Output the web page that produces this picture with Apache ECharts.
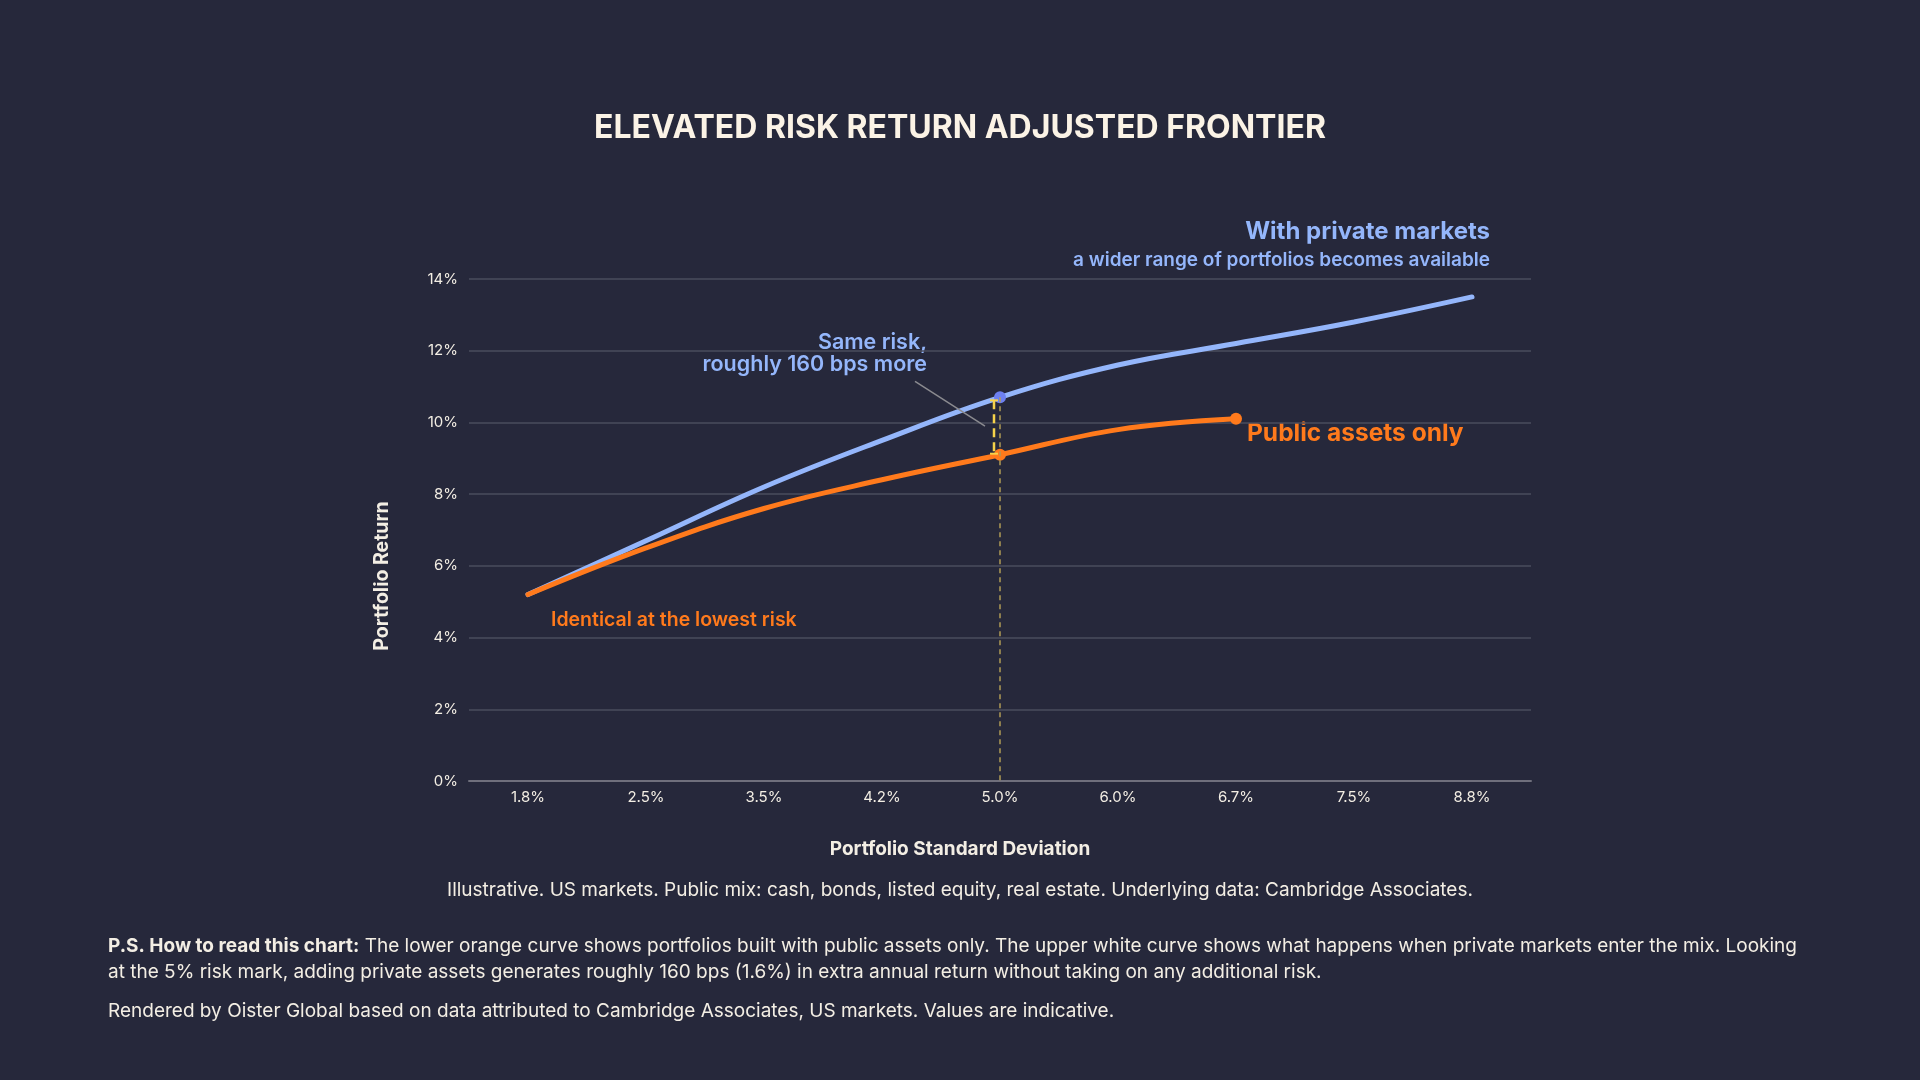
<!DOCTYPE html>
<html>
<head>
<meta charset="utf-8">
<script src="https://cdn.jsdelivr.net/npm/echarts@6/dist/echarts.min.js"></script>
<style>
  html, body { margin: 0; padding: 0; background: #26283b; }
  #main { width: 1920px; height: 1080px; }
</style>
</head>
<body>
<div id="main"></div>
<script>
// 风险档位（x轴）
var riskLabels = ['1.8%', '2.5%', '3.5%', '4.2%', '5.0%', '6.0%', '6.7%', '7.5%', '8.8%'];
// 含私募市场
var privateReturns = [5.2, 6.7, 8.2, 9.5, 10.7, 11.6, 12.2, 12.8, 13.5];
// 仅公开资产
var publicReturns = [5.2, 6.5, 7.6, 8.4, 9.1, 9.8, 10.1];
// y轴刻度
var yTicks = [0, 2, 4, 6, 8, 10, 12, 14];
// 5%风险点的对比
var compareIndex = 4;

var blue = '#94b6fb';
var orange = '#ff7a1c';
var cream = '#f3eee4';
var font = 'Inter';

var chartDom = document.getElementById('main');
var myChart = echarts.init(chartDom);

var privateData = [];
for (var i = 0; i < privateReturns.length; i++) {
  if (i == compareIndex) {
    privateData.push({ value: privateReturns[i], symbol: 'circle', symbolSize: 12, itemStyle: { color: '#6d80f0' } });
  } else {
    privateData.push({ value: privateReturns[i], symbol: 'none' });
  }
}
var publicData = [];
for (var j = 0; j < publicReturns.length; j++) {
  if (j == compareIndex || j == publicReturns.length - 1) {
    publicData.push({ value: publicReturns[j], symbol: 'circle', symbolSize: 12 });
  } else {
    publicData.push({ value: publicReturns[j], symbol: 'none' });
  }
}

// 文字标注
function label(x, y, text, color, fontStr, align) {
  return {
    type: 'text', x: x, y: y, silent: true,
    style: { text: text, fill: color, font: fontStr, align: align || 'left', verticalAlign: 'middle' }
  };
}

var option = {
  backgroundColor: '#26283b',
  animation: false,
  textStyle: { fontFamily: font },
  title: {
    text: 'ELEVATED RISK RETURN ADJUSTED FRONTIER',
    left: 'center',
    top: 107,
    textStyle: { color: '#fbf3e6', fontSize: 32, fontWeight: 700, fontFamily: font }
  },
  grid: { left: 469, right: 389, top: 279, bottom: 299 },
  xAxis: {
    type: 'category',
    data: riskLabels,
    boundaryGap: true,
    axisLine: { lineStyle: { color: '#6f6f7c', width: 2 } },
    axisTick: { show: false },
    axisLabel: { color: cream, fontSize: 15, margin: 9, fontFamily: font },
    splitLine: { show: false }
  },
  yAxis: {
    type: 'value',
    min: yTicks[0],
    max: yTicks[yTicks.length - 1],
    interval: 2,
    axisLine: { show: false },
    axisTick: { show: false },
    axisLabel: { color: cream, fontSize: 15, margin: 11, formatter: '{value}%', fontFamily: font },
    splitLine: { lineStyle: { color: '#4a4c5e', width: 1.5 } }
  },
  series: [
    {
      name: 'With private markets',
      type: 'line',
      smooth: 0.4,
      data: privateData,
      lineStyle: { color: blue, width: 5, cap: 'round' },
      itemStyle: { color: blue },
      z: 2,
      markLine: {
        silent: true,
        symbol: 'none',
        label: { show: false },
        lineStyle: { color: '#b09a55', width: 1.5, type: [5, 4] },
        data: [[
          { coord: [riskLabels[compareIndex], privateReturns[compareIndex]] },
          { coord: [riskLabels[compareIndex], 0] }
        ]]
      }
    },
    {
      name: 'Public assets only',
      type: 'line',
      smooth: 0.4,
      data: publicData,
      lineStyle: { color: orange, width: 5, cap: 'round' },
      itemStyle: { color: orange },
      z: 3
    },
    {
      // 差值标注（括号 + 引线）
      type: 'custom',
      z: 4,
      silent: true,
      data: [[compareIndex, privateReturns[compareIndex], publicReturns[compareIndex]]],
      renderItem: function (params, api) {
        var top = api.coord([api.value(0), api.value(1)]);
        var bot = api.coord([api.value(0), api.value(2)]);
        var bx = top[0] - 6;
        var midY = (top[1] + bot[1]) / 2;
        var yellow = '#f6d24a';
        return {
          type: 'group',
          children: [
            { type: 'line', shape: { x1: bx, y1: top[1] + 3, x2: bx, y2: bot[1] - 1 },
              style: { stroke: yellow, lineWidth: 2.5, lineDash: [9, 5] } },
            { type: 'line', shape: { x1: bx - 4, y1: top[1] + 3, x2: bx + 4, y2: top[1] + 3 },
              style: { stroke: yellow, lineWidth: 2 } },
            { type: 'line', shape: { x1: bx - 4, y1: bot[1] - 1, x2: bx + 4, y2: bot[1] - 1 },
              style: { stroke: yellow, lineWidth: 2 } },
            { type: 'line', shape: { x1: top[0] - 85, y1: top[1] - 16, x2: top[0] - 15, y2: midY },
              style: { stroke: '#8b8b90', lineWidth: 1.5 } }
          ]
        };
      }
    }
  ],
  graphic: [
    label(1490, 232, 'With private markets', blue, '700 24px ' + font, 'right'),
    label(1490, 260, 'a wider range of portfolios becomes available', blue, '600 19px ' + font, 'right'),
    label(927, 343, 'Same risk,', blue, '600 21.5px ' + font, 'right'),
    label(927, 365, 'roughly 160 bps more', blue, '600 21.5px ' + font, 'right'),
    label(1247, 434, 'Public assets only', orange, '700 24.5px ' + font),
    label(551, 620, 'Identical at the lowest risk', orange, '600 19.5px ' + font),
    label(960, 849, 'Portfolio Standard Deviation', cream, '700 19px ' + font, 'center'),
    {
      type: 'text', x: 382, y: 576, rotation: Math.PI / 2, silent: true,
      style: { text: 'Portfolio Return', fill: cream, font: '700 19.5px ' + font, align: 'center', verticalAlign: 'middle' }
    },
    label(960, 890, 'Illustrative. US markets. Public mix: cash, bonds, listed equity, real estate. Underlying data: Cambridge Associates.',
      cream, '400 19px ' + font, 'center'),
    {
      type: 'text', x: 108, y: 933, silent: true,
      style: {
        text: '{b|P.S. How to read this chart:} The lower orange curve shows portfolios built with public assets only. The upper white curve shows what happens when private markets enter the mix. Looking\nat the 5% risk mark, adding private assets generates roughly 160 bps (1.6%) in extra annual return without taking on any additional risk.',
        fill: cream, font: '400 19px ' + font, lineHeight: 26, verticalAlign: 'top',
        rich: { b: { fontWeight: 700, fontSize: 19, fontFamily: font, fill: cream, lineHeight: 26 } }
      }
    },
    label(108, 1011, 'Rendered by Oister Global based on data attributed to Cambridge Associates, US markets. Values are indicative.',
      cream, '400 19px ' + font)
  ]
};

option && myChart.setOption(option);
</script>
</body>
</html>
